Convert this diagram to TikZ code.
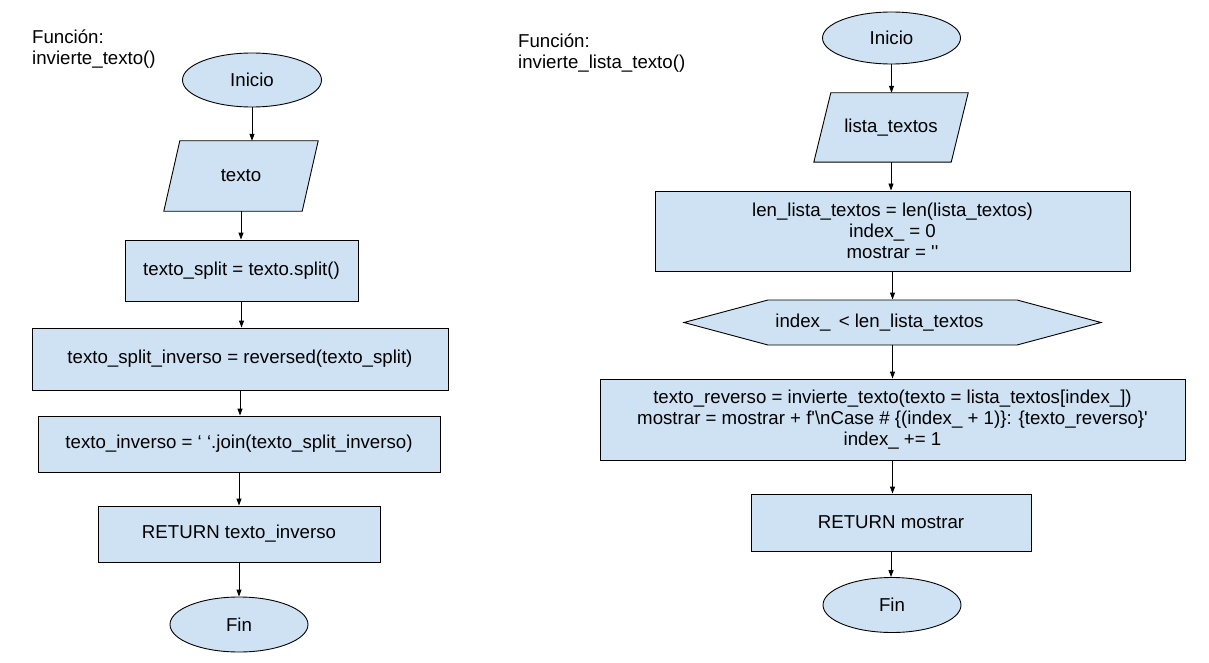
\documentclass[tikz,border=0pt]{standalone}
\usepackage{fontspec}
\newfontfamily\arialf{Liberation Sans}
\usetikzlibrary{shapes.geometric,shapes.symbols,arrows.meta,backgrounds}
\definecolor{boxfill}{HTML}{CFE2F3}
\begin{document}
\begin{tikzpicture}[x=1pt,y=-1pt,
  every node/.style={font=\arialf\fontsize{18.67}{21}\selectfont},
  shp/.style={draw=black,fill=boxfill,line width=0.9pt,inner sep=0pt},
  terminal/.style={shp,ellipse,minimum width=139pt,minimum height=54pt},
  proc/.style={shp,rectangle,align=center},
  io/.style={rectangle,inner sep=0pt,minimum width=138pt,minimum height=70pt},
  iobox/.style={draw=black,fill=boxfill,line width=0.9pt,line join=miter},
  decis/.style={shp,signal,signal to=west and east,signal pointer angle=30,
    minimum width=417pt,minimum height=45pt},
  flow/.style={-{Triangle[length=7pt,width=5pt]},line width=0.9pt},
  title/.style={anchor=base west,align=left,inner sep=0pt}
]
\path[use as bounding box] (0,0) rectangle (1209,663);

% left flowchart
\node[title] (tL) at (32,65) {Función:\\invierte\_texto()};
\node[terminal] (iniL) at (252,80) {Inicio};
\node[io] (pL) at (241,176) {texto};
\node[proc,minimum width=233pt,minimum height=61pt] (b1L) at (241.5,270.5) {texto\_split = texto.split()};
\node[proc,minimum width=416pt,minimum height=62pt] (b2L) at (240,359) {texto\_split\_inverso = reversed(texto\_split)};
\node[proc,minimum width=402pt,minimum height=56pt] (b3L) at (239,444) {texto\_inverso = ‘ ‘.join(texto\_split\_inverso)};
\node[proc,minimum width=282pt,minimum height=56pt] (b4L) at (239,534) {RETURN texto\_inverso};
\node[terminal,minimum width=138pt,minimum height=55pt] (finL) at (239,624.5) {Fin};

% right flowchart
\node[title] (tR) at (518,69) {Función:\\invierte\_lista\_texto()};
\node[terminal,minimum width=138pt,minimum height=52pt] (iniR) at (891.5,38) {Inicio};
\node[io,minimum width=137pt,minimum height=69pt] (pR) at (891,127.5) {lista\_textos};
\node[proc,minimum width=475pt,minimum height=80pt] (b1R) at (892.5,231) {len\_lista\_textos = len(lista\_textos)\\index\_ = 0\\mostrar = ''};
\node[decis] (dR) at (892.5,322.5) {index\_ \,< len\_lista\_textos\hspace*{26pt}};
\node[proc,minimum width=585pt,minimum height=81pt] (b2R) at (892.5,419.5) {texto\_reverso = invierte\_texto(texto = lista\_textos[index\_])\\mostrar = mostrar + f'\textbackslash nCase \# \{(index\_ + 1)\}: \{texto\_reverso\}'\\index\_ += 1};
\node[proc,minimum width=280pt,minimum height=57pt] (b3R) at (891,522.5) {RETURN mostrar};
\node[terminal,minimum width=138pt,minimum height=55pt] (finR) at (892,605) {Fin};

% parallelogram outlines behind the input nodes
\begin{scope}[on background layer]
\draw[iobox] ([xshift=8pt]pL.north west) -- ([xshift=8pt]pL.north east)
  -- ([xshift=-8pt]pL.south east) -- ([xshift=-8pt]pL.south west) -- cycle;
\draw[iobox] ([xshift=8.5pt]pR.north west) -- ([xshift=8.5pt]pR.north east)
  -- ([xshift=-8.5pt]pR.south east) -- ([xshift=-8.5pt]pR.south west) -- cycle;
\end{scope}

\draw[flow] (iniL.south) -- (iniL.south |- pL.north);
\draw[flow] (pL.south) -- (pL.south |- b1L.north);
\draw[flow] (b1L.south) -- (b1L.south |- b2L.north);
\draw[flow] (b2L.south) -- (b2L.south |- b3L.north);
\draw[flow] (b3L.south) -- (b3L.south |- b4L.north);
\draw[flow] (b4L.south) -- (b4L.south |- finL.north);

\draw[flow] (iniR.south) -- (iniR.south |- pR.north);
\draw[flow] (pR.south) -- (pR.south |- b1R.north);
\draw[flow] (b1R.south) -- (b1R.south |- dR.north);
\draw[flow] (dR.south) -- (dR.south |- b2R.north);
\draw[flow] (b2R.south) -- (b2R.south |- b3R.north);
\draw[flow] (b3R.south) -- (b3R.south |- finR.north);
\end{tikzpicture}
\end{document}
